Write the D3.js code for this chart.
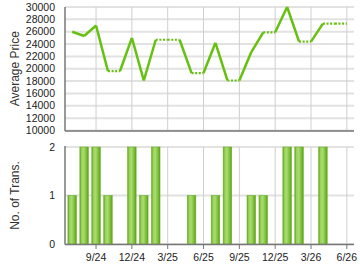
<!DOCTYPE html>
<html lang="en">
<head>
<meta charset="utf-8">
<title>Average Price and No. of Trans.</title>
<script src="https://d3js.org/d3.v7.min.js"></script>
<style>
    body { margin: 0; background: #fff; }
    svg text { font-family: Arial, "Liberation Sans", sans-serif; fill: #222; }
    .grid-h { stroke: #e2e2e2; stroke-width: 2px; }
    .grid-v { stroke: #cfcfcf; stroke-width: 1px; }
    .axis-line { stroke: #777; stroke-width: 1.5px; }
</style>
</head>
<body>
<svg width="360" height="270"></svg>
<script>
    // monthly data, Jul 2024 .. Jun 2026
    var months = ["2024-07","2024-08","2024-09","2024-10","2024-11","2024-12",
                  "2025-01","2025-02","2025-03","2025-04","2025-05","2025-06",
                  "2025-07","2025-08","2025-09","2025-10","2025-11","2025-12",
                  "2026-01","2026-02","2026-03","2026-04","2026-05","2026-06"];
    // null = no transaction that month (price carried forward, dotted)
    var avgPrice = [26000, 25300, 27000, 19600, null, 25000,
                    18100, 24700, null, null, 19300, null,
                    24200, 18100, null, 22700, 25900, null,
                    30000, 24400, null, 27300, null, null];
    var transCount = [1, 2, 2, 1, 0, 2,
                      1, 2, 0, 0, 1, 0,
                      1, 2, 0, 1, 1, 0,
                      2, 2, 0, 2, 0, 0];
    var tickMonths = ["2024-09","2024-12","2025-03","2025-06","2025-09","2025-12","2026-03","2026-06"];
    var tickLabels = ["9/24","12/24","3/25","6/25","9/25","12/25","3/26","6/26"];
    var priceTicks = [10000,12000,14000,16000,18000,20000,22000,24000,26000,28000,30000];
    var transTicks = [0, 1, 2];

    var svg = d3.select("svg");
    var left = 65, right = 354;

    var x = d3.scaleLinear().domain([-0.6, months.length - 0.4]).range([left, right]);
    var yP = d3.scaleLinear().domain([10000, 30000]).range([130.5, 7]);
    var yT = d3.scaleLinear().domain([0, 2]).range([244, 147]);

    var defs = svg.append("defs");
    var grad = defs.append("linearGradient").attr("id", "barGrad")
        .attr("x1", "0%").attr("x2", "100%").attr("y1", "0%").attr("y2", "0%");
    grad.append("stop").attr("offset", "0%").attr("stop-color", "#5ea41c");
    grad.append("stop").attr("offset", "20%").attr("stop-color", "#9ad25a");
    grad.append("stop").attr("offset", "45%").attr("stop-color", "#a9dc70");
    grad.append("stop").attr("offset", "75%").attr("stop-color", "#7fc13a");
    grad.append("stop").attr("offset", "100%").attr("stop-color", "#5a9e18");

    function panel(y, ticks, fmt, title) {
        var g = svg.append("g");
        var y0 = y.range()[0], y1 = y.range()[1];
        g.selectAll(".grid-h").data(ticks).enter().append("line")
            .attr("class", "grid-h")
            .attr("x1", left).attr("x2", right)
            .attr("y1", function(d) { return y(d); })
            .attr("y2", function(d) { return y(d); });
        g.selectAll(".grid-v").data(tickMonths).enter().append("line")
            .attr("class", "grid-v")
            .attr("x1", function(d) { return x(months.indexOf(d)); })
            .attr("x2", function(d) { return x(months.indexOf(d)); })
            .attr("y1", y1).attr("y2", y0);
        g.selectAll(".ylab").data(ticks).enter().append("text")
            .attr("x", left - 10)
            .attr("y", function(d) { return y(d); })
            .attr("dy", "0.35em")
            .attr("text-anchor", "end")
            .style("font-size", "10.5px")
            .text(fmt);
        g.append("text")
            .attr("transform", "translate(19," + ((y0 + y1) / 2) + ") rotate(-90)")
            .attr("text-anchor", "middle")
            .style("font-size", "12px")
            .style("fill", "#333")
            .text(title);
        return g;
    }

    // price panel
    var gp = panel(yP, priceTicks, function(d) { return d; }, "Average Price");

    // build solid / dotted segments
    var segs = [], last = avgPrice[0];
    for (var i = 1; i < months.length; i++) {
        if (avgPrice[i] == null) {
            segs.push({a: [i - 1, last], b: [i, last], dotted: true});
        } else {
            segs.push({a: [i - 1, last], b: [i, avgPrice[i]], dotted: false});
            last = avgPrice[i];
        }
    }
    gp.selectAll(".seg").data(segs).enter().append("line")
        .attr("x1", function(d) { return x(d.a[0]); })
        .attr("y1", function(d) { return yP(d.a[1]); })
        .attr("x2", function(d) { return x(d.b[0]); })
        .attr("y2", function(d) { return yP(d.b[1]); })
        .style("stroke", "#66c010")
        .style("stroke-width", function(d) { return d.dotted ? 2.2 : 2.5; })
        .style("stroke-dasharray", function(d) { return d.dotted ? "2,1.6" : null; })
        .style("stroke-linecap", "butt");

    gp.append("line").attr("class", "axis-line")
        .attr("x1", left).attr("x2", left).attr("y1", 7).attr("y2", 131);
    gp.append("line").attr("class", "axis-line")
        .attr("x1", left).attr("x2", right).attr("y1", 131).attr("y2", 131);

    // transactions panel
    var gt = panel(yT, transTicks, function(d) { return d; }, "No. of Trans.");
    var bw = 8.5;
    gt.selectAll(".bar").data(transCount.map(function(v, i) { return {i: i, v: v}; })
            .filter(function(d) { return d.v > 0; }))
        .enter().append("rect")
        .attr("x", function(d) { return x(d.i) - bw / 2; })
        .attr("y", function(d) { return yT(d.v); })
        .attr("width", bw)
        .attr("height", function(d) { return yT(0) - yT(d.v); })
        .style("fill", "url(#barGrad)")
        .style("stroke", "#6ab02a")
        .style("stroke-width", 0.6);

    gt.append("line").attr("class", "axis-line")
        .attr("x1", left).attr("x2", left).attr("y1", 146).attr("y2", 244.5);
    gt.append("line").attr("class", "axis-line")
        .attr("x1", left).attr("x2", right).attr("y1", 244.5).attr("y2", 244.5);
    gt.selectAll(".tick").data(tickMonths).enter().append("line")
        .attr("x1", function(d) { return x(months.indexOf(d)); })
        .attr("x2", function(d) { return x(months.indexOf(d)); })
        .attr("y1", 244.5).attr("y2", 249)
        .style("stroke", "#777");
    gt.selectAll(".xlab").data(tickMonths).enter().append("text")
        .attr("x", function(d) { return x(months.indexOf(d)); })
        .attr("y", 257)
        .attr("dy", "0.35em")
        .attr("text-anchor", "middle")
        .style("font-size", "10.5px")
        .text(function(d, i) { return tickLabels[i]; });
</script>
</body>
</html>
